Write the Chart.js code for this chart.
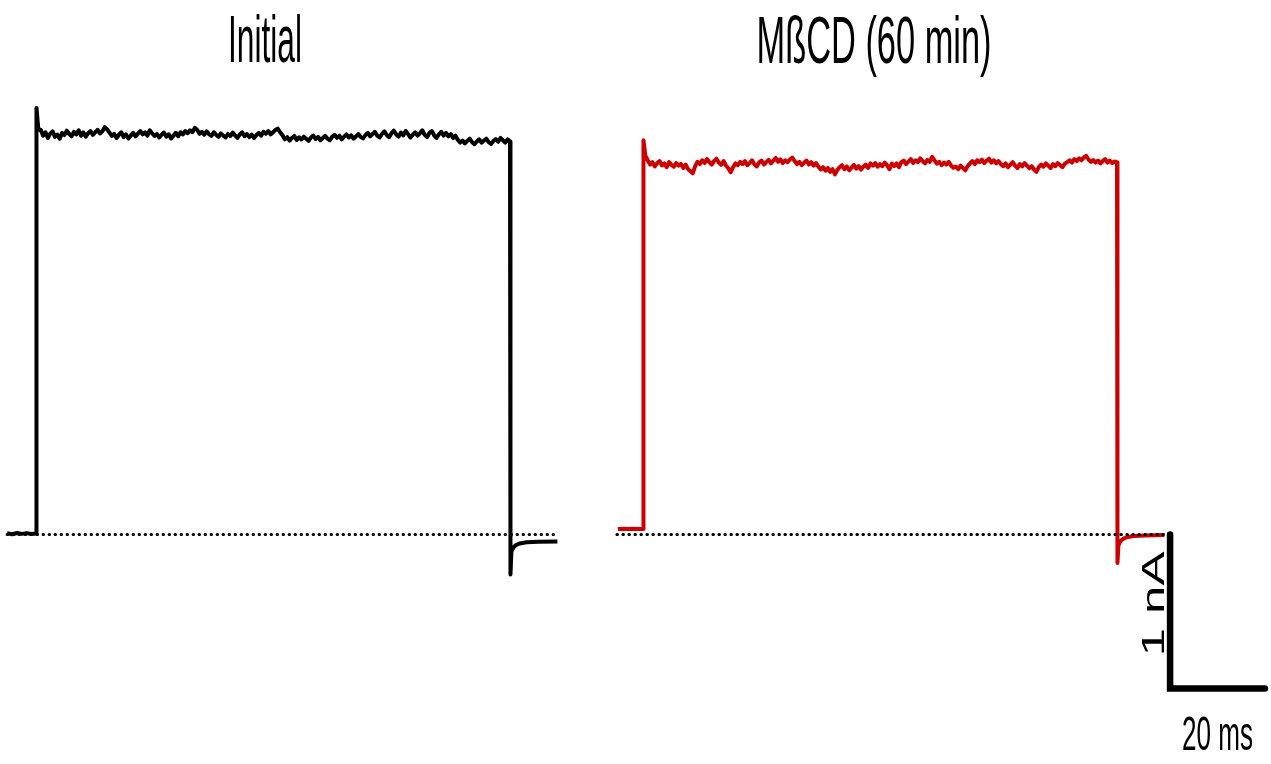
<!DOCTYPE html>
<html><head><meta charset="utf-8">
<script src="https://cdn.jsdelivr.net/npm/chart.js@4.4.0/dist/chart.umd.min.js"></script>
<style>
html,body{margin:0;padding:0;background:#fff;overflow:hidden}
#wrap{position:relative;width:1271px;height:764px;background:#fff}
canvas{position:absolute;top:0}
#cL{left:0}
#cR{left:600px}
</style></head><body>
<div id="wrap"><canvas id="cL" width="600" height="764"></canvas><canvas id="cR" width="671" height="764"></canvas></div>
<script>
// ---------------- data (time in ms, current in nA) ----------------
const panelTitles = ["Initial", "MßCD (60 min)"];

const blackPreTimes = [-6.1, -5, -4, -3, -2, -1, 0];
const blackPre = [0.008, 0.002, 0.010, 0.004, 0.009, 0.003, 0.006];
const redPreTimes = [-5.3, -4, -3, -2, -1, 0];
const redPre = [0.036, 0.038, 0.035, 0.037, 0.036, 0.036];

const onsetTimes = [0.1, 0.5];
const blackOnset = [2.77, 2.63];
const redOnset = [2.56, 2.46];

// plateau sampled every 0.5 ms from 1 to 100 ms
const plateauTimes = Array.from({length: 199}, (_, i) => 1 + i * 0.5);
const blackPlateau = [
  2.628, 2.590, 2.612, 2.575, 2.603, 2.618, 2.582, 2.596, 2.570, 2.608,
  2.594, 2.622, 2.601, 2.585, 2.615, 2.598, 2.625, 2.590, 2.611, 2.583,
  2.606, 2.620, 2.595, 2.612, 2.628, 2.604, 2.618, 2.645, 2.632, 2.610,
  2.588, 2.602, 2.575, 2.596, 2.612, 2.580, 2.598, 2.571, 2.590, 2.608,
  2.585, 2.603, 2.620, 2.598, 2.611, 2.590, 2.624, 2.606, 2.588, 2.600,
  2.578, 2.596, 2.610, 2.583, 2.599, 2.572, 2.590, 2.608, 2.586, 2.612,
  2.598, 2.620, 2.606, 2.625, 2.612, 2.640, 2.628, 2.602, 2.615, 2.596,
  2.618, 2.600, 2.589, 2.612, 2.596, 2.582, 2.605, 2.590, 2.578, 2.601,
  2.588, 2.609, 2.592, 2.575, 2.598, 2.612, 2.586, 2.600, 2.581, 2.596,
  2.574, 2.594, 2.608, 2.590, 2.615, 2.602, 2.620, 2.598, 2.612, 2.626,
  2.635, 2.612, 2.592, 2.566, 2.580, 2.558, 2.575, 2.588, 2.562, 2.579,
  2.565, 2.583, 2.570, 2.556, 2.578, 2.590, 2.568, 2.582, 2.560, 2.575,
  2.588, 2.571, 2.560, 2.584, 2.595, 2.576, 2.590, 2.566, 2.583, 2.598,
  2.578, 2.592, 2.570, 2.585, 2.600, 2.582, 2.572, 2.594, 2.608, 2.586,
  2.600, 2.615, 2.590, 2.578, 2.602, 2.618, 2.594, 2.580, 2.606, 2.622,
  2.598, 2.584, 2.610, 2.592, 2.620, 2.600, 2.578, 2.596, 2.612, 2.590,
  2.605, 2.625, 2.596, 2.580, 2.608, 2.620, 2.592, 2.575, 2.598, 2.615,
  2.590, 2.608, 2.585, 2.600, 2.574, 2.590, 2.562, 2.545, 2.558, 2.540,
  2.556, 2.570, 2.548, 2.535, 2.552, 2.566, 2.544, 2.558, 2.570, 2.548,
  2.536, 2.555, 2.568, 2.550, 2.575, 2.560, 2.545, 2.566, 2.552
];
const redPlateau = [
  2.430, 2.402, 2.418, 2.390, 2.412, 2.425, 2.396, 2.410, 2.385, 2.418,
  2.400, 2.388, 2.412, 2.395, 2.406, 2.380, 2.402, 2.372, 2.360, 2.345,
  2.392, 2.420, 2.405, 2.430, 2.412, 2.438, 2.418, 2.402, 2.426, 2.440,
  2.415, 2.400, 2.425, 2.396, 2.378, 2.352, 2.385, 2.410, 2.398, 2.420,
  2.405, 2.425, 2.398, 2.412, 2.430, 2.404, 2.390, 2.416, 2.428, 2.402,
  2.418, 2.432, 2.410, 2.428, 2.445, 2.420, 2.436, 2.412, 2.430, 2.418,
  2.435, 2.448, 2.425, 2.405, 2.420, 2.398, 2.415, 2.428, 2.402, 2.418,
  2.396, 2.412, 2.388, 2.370, 2.385, 2.362, 2.380, 2.355, 2.372, 2.338,
  2.368, 2.385, 2.398, 2.372, 2.390, 2.365, 2.382, 2.400, 2.375, 2.392,
  2.370, 2.388, 2.402, 2.380, 2.410, 2.395, 2.412, 2.388, 2.405, 2.392,
  2.415, 2.398, 2.372, 2.408, 2.392, 2.410, 2.385, 2.418, 2.428, 2.405,
  2.422, 2.438, 2.412, 2.430, 2.418, 2.442, 2.425, 2.410, 2.432, 2.420,
  2.452, 2.430, 2.408, 2.420, 2.398, 2.415, 2.402, 2.420, 2.395, 2.382,
  2.390, 2.372, 2.395, 2.380, 2.365, 2.392, 2.410, 2.425, 2.405, 2.430,
  2.418, 2.435, 2.412, 2.428, 2.440, 2.415, 2.430, 2.410, 2.425, 2.405,
  2.392, 2.410, 2.385, 2.402, 2.418, 2.395, 2.380, 2.405, 2.390, 2.412,
  2.396, 2.378, 2.392, 2.370, 2.355, 2.385, 2.402, 2.388, 2.410, 2.395,
  2.380, 2.405, 2.392, 2.412, 2.398, 2.385, 2.408, 2.418, 2.430, 2.415,
  2.438, 2.425, 2.442, 2.430, 2.448, 2.458, 2.435, 2.420, 2.432, 2.415,
  2.428, 2.410, 2.425, 2.438, 2.415, 2.428, 2.412, 2.422, 2.418
];

const tailTimes = [100.1, 100.3, 100.7, 101.2, 102, 103.5, 106, 110];
const blackTail = [-0.26, -0.11, -0.085, -0.07, -0.058, -0.05, -0.047, -0.045];
const redTail = [-0.185, -0.07, -0.045, -0.03, -0.018, -0.01, -0.006, -0.004];

const blackZeroSpan = [-6.1, 109.5];
const redZeroSpan = [-5.5, 110.5];

const scaleBarNA = 1;
const scaleBarMs = 20;
const scaleBarLabels = ["1 nA", "20 ms"];

// ---------------- build ----------------
const PX_PER_MS = 4.74, PX_PER_NA = 154, ZERO_Y = 534.5, H = 764;
const yMax = ZERO_Y / PX_PER_NA, yMin = -(H - ZERO_Y) / PX_PER_NA;

function pts(times, vals) { return times.map((t, i) => ({x: t, y: vals[i]})); }
function trace(pre, preT, onset, plateau, tail) {
  return [].concat(pts(preT, pre), pts(onsetTimes, onset), pts(plateauTimes, plateau), pts(tailTimes, tail));
}
function zeroLine(span) { return [{x: span[0], y: 0}, {x: span[1], y: 0}]; }

const FONT = '"Liberation Sans", Arial, "DejaVu Sans", sans-serif';
function stretchedText(ctx, text, x, y, size, width, rotate) {
  ctx.save();
  ctx.font = size + 'px ' + FONT;
  const sx = width / ctx.measureText(text).width;
  ctx.translate(x, y);
  if (rotate) ctx.rotate(-Math.PI / 2);
  ctx.scale(sx, 1);
  ctx.fillStyle = '#000';
  ctx.textAlign = 'center';
  ctx.textBaseline = 'alphabetic';
  ctx.fillText(text, 0, 0);
  ctx.restore();
}

const zeroStyle = {borderColor: '#000', borderWidth: 3, borderDash: [0.5, 5.5], borderCapStyle: 'round', order: 0};
const traceStyle = {borderWidth: 4, borderJoinStyle: 'round', borderCapStyle: 'butt', order: 1};

function makeChart(id, xMin, xMax, datasets, draw) {
  return new Chart(document.getElementById(id), {
    type: 'line',
    data: {datasets},
    options: {
      responsive: false, animation: false, devicePixelRatio: 1,
      layout: {padding: 0},
      scales: {
        x: {type: 'linear', min: xMin, max: xMax, display: false},
        y: {type: 'linear', min: yMin, max: yMax, display: false}
      },
      plugins: {legend: {display: false}, tooltip: {enabled: false}, title: {display: false}},
      elements: {point: {radius: 0}, line: {tension: 0, fill: false}}
    },
    plugins: [{id: 'texts', afterDraw: draw}]
  });
}

// left panel: pulse onset at page x = 36
makeChart('cL', -36 / PX_PER_MS, (600 - 36) / PX_PER_MS, [
  Object.assign({data: zeroLine(blackZeroSpan)}, zeroStyle),
  Object.assign({data: trace(blackPre, blackPreTimes, blackOnset, blackPlateau, blackTail), borderColor: '#000'}, traceStyle)
], chart => {
  stretchedText(chart.ctx, panelTitles[0], 265, 62, 66, 74, false);
});

// right panel: pulse onset at page x = 643 (canvas offset 600)
const barX0 = 111.2;
makeChart('cR', -43 / PX_PER_MS, (671 - 43) / PX_PER_MS, [
  Object.assign({data: zeroLine(redZeroSpan)}, zeroStyle),
  Object.assign({data: trace(redPre, redPreTimes, redOnset, redPlateau, redTail), borderColor: '#cc0000'}, traceStyle),
  {data: [{x: barX0, y: 0}, {x: barX0, y: -scaleBarNA}, {x: barX0 + scaleBarMs, y: -scaleBarNA}],
   borderColor: '#000', borderWidth: 6.5, borderCapStyle: 'round', borderJoinStyle: 'miter', order: 2}
], chart => {
  const xs = chart.scales.x, ys = chart.scales.y;
  stretchedText(chart.ctx, panelTitles[1], 274, 63, 66, 235, false);
  const bx = xs.getPixelForValue(barX0);
  const by0 = ys.getPixelForValue(0), by1 = ys.getPixelForValue(-scaleBarNA);
  stretchedText(chart.ctx, scaleBarLabels[0], bx - 6, (by0 + by1) / 2 - 7.5, 32, 105, true);
  stretchedText(chart.ctx, scaleBarLabels[1], xs.getPixelForValue(barX0 + scaleBarMs / 2), by1 + 61.5, 49, 71, false);
});
</script>
</body></html>
